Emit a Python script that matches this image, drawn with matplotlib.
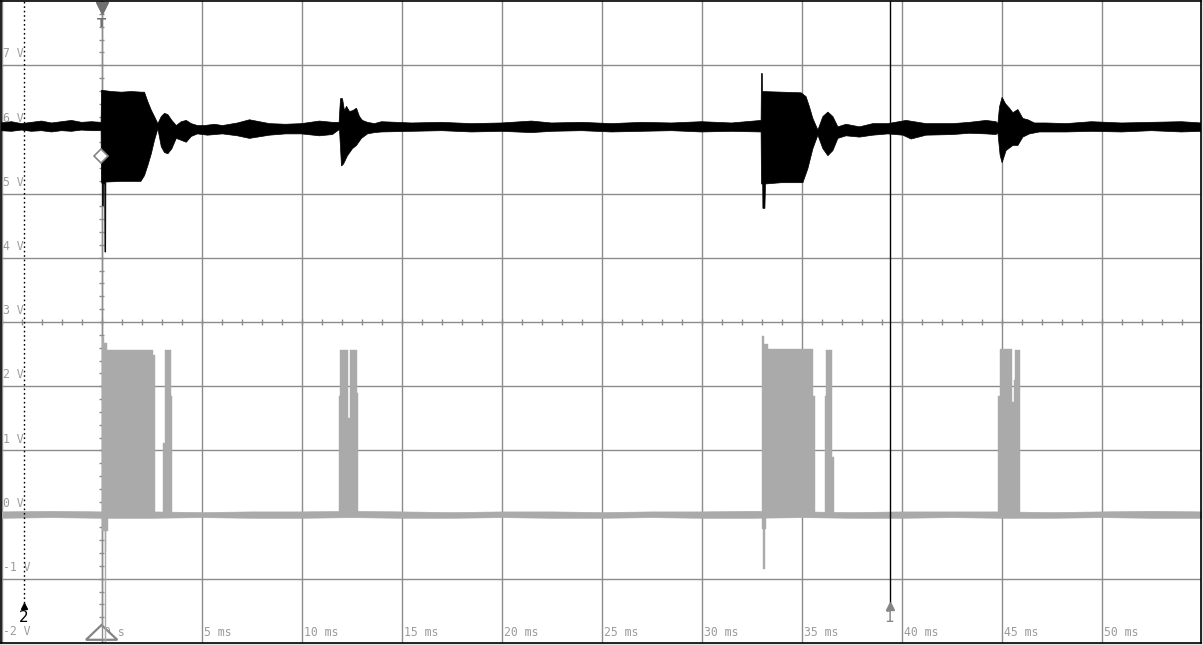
import matplotlib
matplotlib.use("Agg")
import numpy as np
import matplotlib.pyplot as plt
from matplotlib.patches import Polygon

# ---------------- data ----------------
# Channel 1 (black) envelope: time in ms, volts
ch1_hi_t = [-5.05, -4.5, -4.0, -3.5, -3.0, -2.5, -2.0, -1.5, -1.0, -0.5, -0.02,
            0.0, 0.5, 1.0, 1.5, 2.0, 2.15, 2.32, 2.49, 2.65, 2.82, 2.99, 3.15, 3.32, 3.52, 3.74,
            3.99, 4.24, 4.49, 4.80, 5.15, 5.65, 6.05, 6.8, 7.4, 8.4, 9.2, 10.0, 10.9, 11.55, 11.88,
            11.95, 12.05, 12.15, 12.25, 12.4, 12.55, 12.75, 12.9, 13.05, 13.3, 13.65, 14.0,
            15.5, 17.0, 18.5, 20.0, 21.5, 22.5, 24.0, 25.5, 27.0, 28.5, 30.0, 31.5, 32.98,
            33.0, 33.04, 33.05, 34.0, 34.98, 35.23, 35.4, 35.57, 35.82, 36.07, 36.32, 36.57, 36.82,
            37.23, 37.9, 38.57, 39.32, 40.23, 41.23, 42.57, 43.4, 44.23, 44.73,
            44.82, 44.9, 45.03, 45.2, 45.4, 45.57, 45.82, 46.07, 46.32, 46.65, 47.23, 48.23,
            49.5, 51.0, 52.5, 54.0, 55.0]
ch1_hi_v = [6.10, 6.12, 6.09, 6.11, 6.13, 6.10, 6.12, 6.14, 6.11, 6.12, 6.11,
            6.61, 6.59, 6.58, 6.59, 6.58, 6.58, 6.43, 6.30, 6.20, 6.09, 6.20, 6.25, 6.23, 6.14, 6.06,
            6.12, 6.14, 6.09, 6.06, 6.06, 6.08, 6.06, 6.10, 6.15, 6.09, 6.08, 6.09, 6.13, 6.11, 6.11,
            6.48, 6.48, 6.29, 6.36, 6.28, 6.29, 6.33, 6.20, 6.14, 6.11, 6.09, 6.12,
            6.10, 6.11, 6.09, 6.10, 6.13, 6.10, 6.11, 6.09, 6.11, 6.10, 6.12, 6.10, 6.14,
            6.87, 6.87, 6.59, 6.58, 6.57, 6.51, 6.35, 6.17, 5.99, 6.20, 6.27, 6.20, 6.04,
            6.08, 6.04, 6.09, 6.09, 6.14, 6.09, 6.09, 6.11, 6.14, 6.12,
            6.09, 6.35, 6.50, 6.40, 6.33, 6.26, 6.31, 6.17, 6.15, 6.10, 6.10, 6.09,
            6.12, 6.10, 6.11, 6.12, 6.10]
ch1_lo_t = [-5.05, -4.5, -4.0, -3.5, -3.0, -2.5, -2.0, -1.5, -1.0, -0.5, -0.02,
            0.0, 0.04, 0.05, 0.09, 0.10, 0.16, 0.17, 0.21, 0.22, 1.0, 1.97, 2.15, 2.32, 2.49, 2.65,
            2.82, 2.99, 3.15, 3.32, 3.52, 3.74, 3.99, 4.24, 4.49, 4.80, 5.3, 6.05, 6.8, 7.4, 8.4,
            9.2, 10.0, 10.9, 11.55, 11.9,
            12.0, 12.1, 12.3, 12.55, 12.75, 13.0, 13.3, 13.65, 14.0,
            15.5, 17.0, 18.5, 20.0, 21.5, 22.5, 24.0, 25.5, 27.0, 28.5, 30.0, 31.5, 32.98,
            33.0, 33.06, 33.07, 33.17, 33.2, 34.0, 35.07, 35.32, 35.57, 35.82, 36.07, 36.32, 36.57,
            36.82, 37.23, 37.9, 38.57, 39.32, 40.07, 40.48, 41.23, 42.57, 43.4, 44.23, 44.73,
            44.82, 44.93, 45.03, 45.23, 45.57, 45.82, 46.07, 46.4, 46.9, 48.23,
            49.5, 51.0, 52.5, 54.0, 55.0]
ch1_lo_v = [5.98, 5.97, 5.99, 5.97, 5.98, 5.96, 5.98, 5.97, 5.99, 5.98, 5.98,
            5.18, 5.15, 4.81, 4.81, 5.15, 5.15, 4.09, 4.09, 5.18, 5.19, 5.19, 5.28, 5.44, 5.62, 5.83,
            6.01, 5.73, 5.64, 5.62, 5.70, 5.86, 5.83, 5.80, 5.89, 5.93, 5.91, 5.93, 5.90, 5.86, 5.91,
            5.93, 5.93, 5.90, 5.92, 6.00,
            5.43, 5.46, 5.59, 5.70, 5.75, 5.86, 5.93, 5.95, 5.96,
            5.97, 5.98, 5.96, 5.97, 5.95, 5.97, 5.98, 5.96, 5.97, 5.98, 5.96, 5.97, 5.96,
            5.15, 5.15, 4.77, 4.77, 5.15, 5.17, 5.17, 5.39, 5.70, 5.91, 5.70, 5.59, 5.67,
            5.86, 5.90, 5.88, 5.91, 5.93, 5.91, 5.85, 5.91, 5.92, 5.94, 5.93, 5.92,
            5.95, 5.60, 5.48, 5.67, 5.75, 5.75, 5.88, 5.93, 5.96, 5.96,
            5.97, 5.96, 5.98, 5.96, 5.97]

# Channel 2 (grey) baseline noise band
ch2_base_t = [-5.05, -2.5, 0.0, 2.5, 5.0, 7.5, 10.0, 12.5, 15.0, 17.5, 20.0, 22.5, 25.0,
              27.5, 30.0, 32.5, 35.0, 37.5, 40.0, 42.5, 45.0, 47.5, 50.0, 52.5, 55.0]
ch2_base_hi = [0.05, 0.06, 0.05, 0.05, 0.04, 0.05, 0.05, 0.06, 0.05, 0.04, 0.05, 0.05, 0.04,
               0.05, 0.05, 0.06, 0.05, 0.04, 0.05, 0.05, 0.05, 0.04, 0.05, 0.06, 0.05]
ch2_base_lo = [-0.05, -0.04, -0.05, -0.05, -0.04, -0.05, -0.05, -0.04, -0.05, -0.05, -0.04, -0.05, -0.05,
               -0.04, -0.05, -0.05, -0.04, -0.05, -0.05, -0.04, -0.05, -0.05, -0.04, -0.05, -0.05]

# Channel 2 pulse-burst columns: start (ms), end (ms), top level (V)
ch2_seg_t0 = [0.0, 0.12, 0.25, 2.57, 3.07, 3.15, 3.45,
              11.85, 11.92, 12.3, 12.4, 12.75,
              33.0, 33.1, 33.3, 35.57, 36.15, 36.2, 36.53,
              44.82, 44.9, 45.53, 45.6, 45.67]
ch2_seg_t1 = [0.12, 0.25, 2.57, 2.65, 3.15, 3.45, 3.52,
              11.92, 12.3, 12.4, 12.75, 12.82,
              33.1, 33.3, 35.57, 35.65, 36.2, 36.53, 36.6,
              44.9, 45.53, 45.6, 45.67, 45.93]
ch2_seg_top = [2.77, 2.67, 2.57, 2.49, 1.11, 2.57, 1.84,
               1.84, 2.57, 1.50, 2.57, 1.90,
               2.78, 2.65, 2.58, 1.84, 1.84, 2.57, 0.90,
               1.84, 2.58, 1.76, 2.10, 2.56]
# Channel 2 negative spikes: start, end, lowest level (V)
ch2_neg_t0 = [0.0, 0.17, 0.19, 33.0, 33.07]
ch2_neg_t1 = [0.3, 0.23, 0.22, 33.2, 33.17]
ch2_neg_low = [-0.25, -0.59, -2.1, -0.22, -0.85]

volt_labels = ["-2 V", "-1 V", "0 V", "1 V", "2 V", "3 V", "4 V", "5 V", "6 V", "7 V"]
volt_values = [-2, -1, 0, 1, 2, 3, 4, 5, 6, 7]
time_labels = ["0 s", "5 ms", "10 ms", "15 ms", "20 ms", "25 ms", "30 ms", "35 ms",
               "40 ms", "45 ms", "50 ms"]
time_values = [0, 5, 10, 15, 20, 25, 30, 35, 40, 45, 50]

cursor1_t = 39.4
cursor2_t = -3.9
trig_level = 5.59

# ---------------- drawing ----------------
GRID = "#8c8c8c"
LBL = "#9c9c9c"
CH2 = "#aaaaaa"
BASE = -0.04

fig = plt.figure(figsize=(12.03, 6.45), dpi=100, facecolor="#e4e4e4")
ax = fig.add_axes([1 / 1203, 2 / 645, 1200 / 1203, 642 / 645])
ax.set_facecolor("white")
ax.set_xlim(-5.025, 54.975)
ax.set_ylim(-2, 8)
ax.set_xticks([])
ax.set_yticks([])
for s in ax.spines.values():
    s.set_color("black")
    s.set_linewidth(1.2)
    s.set_zorder(10)

for t in np.arange(-5, 55.1, 5):
    ax.axvline(t, color=GRID, lw=1.0, zorder=1)
for v in range(-1, 8):
    ax.axhline(v, color=GRID, lw=1.0, zorder=1)

# ticked centre lines
ax.vlines(np.arange(-5, 55.01, 1.0), 3 - 0.04, 3 + 0.04, color=GRID, lw=1.0, zorder=1)
ax.hlines(np.arange(-2, 8.01, 0.2), -0.14, 0.14, color=GRID, lw=1.0, zorder=1)

# labels
for lab, v in zip(volt_labels, volt_values):
    ax.text(-4.93, v + 0.175, lab, color=LBL, fontsize=8.3, family="DejaVu Sans Mono",
            va="center", ha="left", zorder=2)
for lab, t in zip(time_labels, time_values):
    ax.text(t + 0.1, -2 + 0.17, lab, color=LBL, fontsize=8.3, family="DejaVu Sans Mono",
            va="center", ha="left", zorder=2)

# bottom trigger triangle (white filled, outline grey)
tri = Polygon([[-0.775, -1.95], [0.79, -1.95], [0.0, -1.72]], closed=True,
              facecolor="white", edgecolor="#858585", lw=1.6, zorder=3, clip_on=False)
ax.add_patch(tri)
ax.plot([0, 0], [-2, 8], color=GRID, lw=1.0, zorder=3.5)

# channel 2: baseline band
ax.fill_between(ch2_base_t, ch2_base_lo, ch2_base_hi, color=CH2, lw=0.4, zorder=4)

# channel 2: bursts, contiguous columns merged into one step polygon each
groups = []
for a, b, h in zip(ch2_seg_t0, ch2_seg_t1, ch2_seg_top):
    if groups and abs(groups[-1][0][-1] - a) < 1e-9:
        groups[-1][0].append(b)
        groups[-1][1].append(h)
    else:
        groups.append(([a, b], [h]))
for edges, vals in groups:
    px = [edges[0]]
    py = [BASE]
    for i, h in enumerate(vals):
        px += [edges[i], edges[i + 1]]
        py += [h, h]
    px.append(edges[-1])
    py.append(BASE)
    ax.fill(px, py, color=CH2, lw=0.3, zorder=4)

n0 = np.array(ch2_neg_t0); n1 = np.array(ch2_neg_t1); low = np.array(ch2_neg_low)
ax.bar(n0, BASE - low, bottom=low, width=n1 - n0, align="edge", color=CH2,
       lw=0.3, edgecolor=CH2, zorder=4)

# channel 1
xs = list(ch1_hi_t) + list(ch1_lo_t[::-1])
ys = list(ch1_hi_v) + list(ch1_lo_v[::-1])
ax.fill(xs, ys, color="black", lw=0.5, zorder=5)

# cursors
ax.plot([cursor1_t, cursor1_t], [-1.38, 8], color="black", lw=1.0, zorder=6)
ax.plot([cursor1_t], [-1.43], marker="^", ms=6, color="#858585", mec="#858585", zorder=7)
ax.text(cursor1_t, -1.49, "1", color="#858585", fontsize=11, ha="center", va="top", zorder=7)
ax.plot([cursor2_t, cursor2_t], [-1.38, 8], color="black", lw=1.0, dashes=(1.2, 2.0), zorder=6)
ax.plot([cursor2_t], [-1.43], marker="^", ms=5, color="black", zorder=7)
ax.text(cursor2_t, -1.49, "2", color="black", fontsize=11, ha="center", va="top", zorder=7)

# trigger markers
ax.plot([0], [7.89], marker="v", ms=8, color="#707070", zorder=7, clip_on=False)
ax.text(0, 7.65, "T", color="#707070", fontsize=9.5, fontweight="bold", ha="center",
        va="center", zorder=7)
ax.plot([-0.03], [trig_level], marker="D", ms=7.5, mfc="white", mec="#858585", mew=1.2, zorder=7)

fig.savefig("out.png", dpi=100, facecolor=fig.get_facecolor())
